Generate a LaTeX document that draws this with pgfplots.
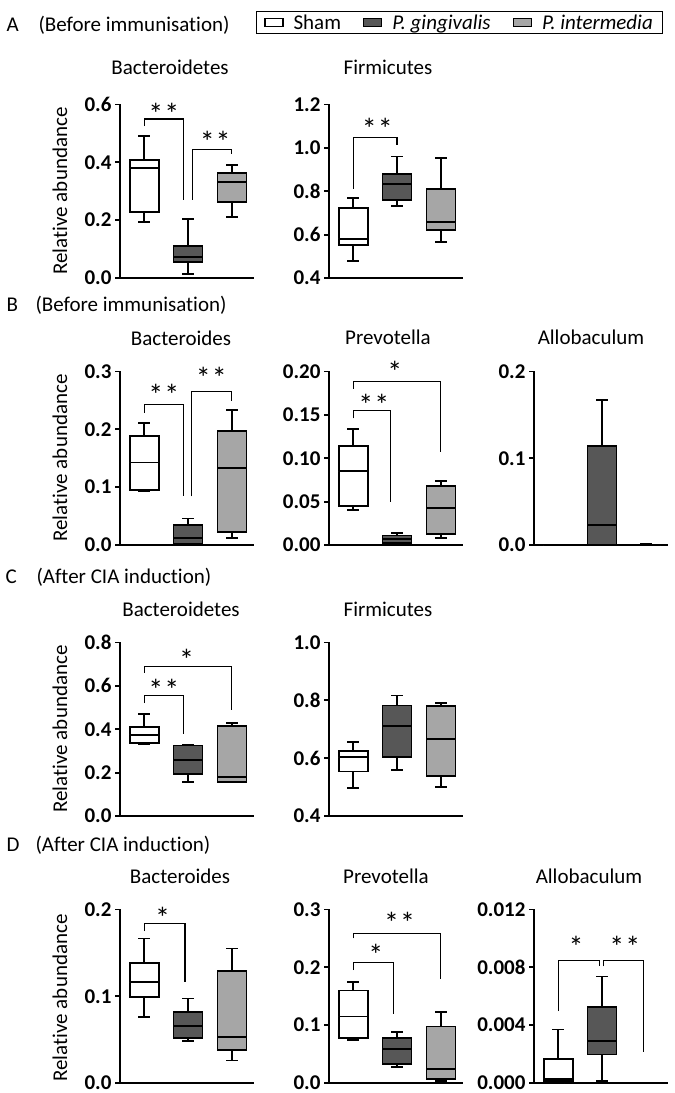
\documentclass[border=0pt]{standalone}
\usepackage{pgfplots}
\pgfplotsset{compat=1.18}
\usepgfplotslibrary{statistics}
\usepackage{fontspec}
\setmainfont{Carlito}[Ligatures=CommonOff]
\definecolor{dk}{HTML}{575757}
\definecolor{lt}{HTML}{A6A6A6}
\newcommand{\fs}{\fontsize{21}{24}\selectfont}
\pgfplotsset{
  panel/.style={
    scale only axis, width=133pt, height=173.5pt, anchor=south west,
    axis lines*=left, xmin=-0.55, xmax=2.48, enlargelimits=false, clip=false,
    xtick=\empty, tick align=outside, major tick length=5pt,
    axis line style={line width=1.8pt, line cap=rect},
    ytick style={line width=1.8pt, black},
    tick label style={font=\fs\bfseries},
    yticklabel style={/pgf/number format/fixed, /pgf/number format/fixed zerofill,
      /pgf/number format/precision=#1, /pgf/number format/assume math mode=true},
  },
}
\tikzset{br/.style={line width=1.1pt}}
\newcommand{\bp}[7]{\addplot[forget plot, draw=black, line width=1.8pt, fill=#7,
  boxplot prepared={draw direction=y, draw position=#1, lower whisker=#2, lower quartile=#3, median=#4,
  upper quartile=#5, upper whisker=#6, box extend=0.66, whisker extend=0.27}] coordinates {};}
\newcommand{\st}[3]{\node[font=\fontsize{30}{30}\selectfont, yshift=-6pt] at (axis cs:#1,#2) {#3};}
\newcommand{\twostar}{*\kern1pt*}
\begin{document}
\begin{tikzpicture}
\useasboundingbox (0pt,0pt) rectangle (675pt,-1093pt);
% headers
\node[anchor=west,font=\fs] at (3pt,-25pt) {A};
\node[anchor=west,font=\fs] at (35pt,-25pt) {(Before immunisation)};
\node[anchor=west,font=\fs] at (3pt,-305pt) {B};
\node[anchor=west,font=\fs] at (32pt,-305pt) {(Before immunisation)};
\node[anchor=west,font=\fs] at (2pt,-577pt) {C};
\node[anchor=west,font=\fs] at (33pt,-577pt) {(After CIA induction)};
\node[anchor=west,font=\fs] at (3pt,-845pt) {D};
\node[anchor=west,font=\fs] at (32pt,-845pt) {(After CIA induction)};
% titles
\node[font=\fs] at (170pt,-67pt) {Bacteroidetes};
\node[font=\fs] at (388pt,-67pt) {Firmicutes};
\node[font=\fs] at (181pt,-338pt) {Bacteroides};
\node[font=\fs] at (388pt,-337pt) {Prevotella};
\node[font=\fs] at (591pt,-337pt) {Allobaculum};
\node[font=\fs] at (181pt,-609pt) {Bacteroidetes};
\node[font=\fs] at (388pt,-609pt) {Firmicutes};
\node[font=\fs] at (180pt,-876pt) {Bacteroides};
\node[font=\fs] at (386pt,-876pt) {Prevotella};
\node[font=\fs] at (589pt,-876pt) {Allobaculum};
% y labels
\node[font=\fs,rotate=90] at (60pt,-191pt) {Relative abundance};
\node[font=\fs,rotate=90] at (60pt,-458pt) {Relative abundance};
\node[font=\fs,rotate=90] at (60pt,-729pt) {Relative abundance};
\node[font=\fs,rotate=90] at (60pt,-998pt) {Relative abundance};

% ---------- A Bacteroidetes
\begin{axis}[panel=1, at={(120pt,-278pt)}, ymin=0, ymax=0.6, ytick={0,0.2,0.4,0.6},
  legend columns=3,
  legend style={at={(axis description cs:2.553,1.4726)}, anchor=center, draw=black,
    line width=1.3pt, font=\fs, inner xsep=8pt, inner ysep=1pt,
    /tikz/every odd column/.append style={column sep=8pt},
    /tikz/every even column/.append style={column sep=20pt}},
  legend cell align=left]
\addlegendimage{legend image code/.code={\draw[draw=black,fill=white,line width=1.3pt] (0pt,-4pt) rectangle (18pt,4pt);}}
\addlegendentry{Sham}
\addlegendimage{legend image code/.code={\draw[draw=black,fill=dk,line width=1.3pt] (0pt,-4pt) rectangle (18pt,4pt);}}
\addlegendentry{\textit{P. gingivalis}}
\addlegendimage{legend image code/.code={\draw[draw=black,fill=lt,line width=1.3pt] (0pt,-4pt) rectangle (18pt,4pt);}}
\addlegendentry{\textit{P. intermedia}}
\bp{0}{0.193}{0.228}{0.380}{0.408}{0.492}{white}
\bp{1}{0.014}{0.054}{0.074}{0.111}{0.203}{dk}
\bp{2}{0.212}{0.263}{0.331}{0.363}{0.392}{lt}
\draw[br] (axis cs:0,0.525) |- (axis cs:0.9,0.55) -- (axis cs:0.9,0.27);
\draw[br] (axis cs:1.1,0.27) |- (axis cs:2,0.444) -- (axis cs:2,0.43);
\st{0.45}{0.589}{\twostar}
\st{1.62}{0.49}{\twostar}
\end{axis}

% ---------- A Firmicutes
\begin{axis}[panel=1, at={(329pt,-278pt)}, ymin=0.4, ymax=1.2, ytick={0.4,0.6,0.8,1.0,1.2}]
\bp{0}{0.477}{0.554}{0.580}{0.722}{0.768}{white}
\bp{1}{0.731}{0.758}{0.834}{0.880}{0.960}{dk}
\bp{2}{0.565}{0.623}{0.657}{0.810}{0.955}{lt}
\draw[br] (axis cs:0,0.812) |- (axis cs:1,1.046) -- (axis cs:1,1.015);
\st{0.55}{1.115}{\twostar}
\end{axis}

% ---------- B Bacteroides
\begin{axis}[panel=1, at={(120pt,-545pt)}, ymin=0, ymax=0.3, ytick={0,0.1,0.2,0.3}]
\bp{0}{0.0925}{0.0954}{0.1425}{0.1885}{0.2115}{white}
\bp{1}{0.0}{0.002}{0.012}{0.035}{0.046}{dk}
\bp{2}{0.0115}{0.023}{0.133}{0.1966}{0.233}{lt}
\draw[br] (axis cs:0,0.229) |- (axis cs:0.89,0.243) -- (axis cs:0.89,0.084);
\draw[br] (axis cs:1.08,0.084) |- (axis cs:2,0.265) -- (axis cs:2,0.249);
\st{0.45}{0.27}{\twostar}
\st{1.53}{0.30}{\twostar}
\end{axis}

% ---------- B Prevotella
\begin{axis}[panel=2, at={(329pt,-545pt)}, ymin=0, ymax=0.2, ytick={0,0.05,0.1,0.15,0.2}]
\bp{0}{0.040}{0.045}{0.085}{0.114}{0.134}{white}
\bp{1}{0.001}{0.002}{0.007}{0.011}{0.014}{dk}
\bp{2}{0.008}{0.0126}{0.0425}{0.068}{0.074}{lt}
\draw[br] (axis cs:0,0.146) |- (axis cs:0.86,0.155) -- (axis cs:0.86,0.050);
\draw[br] (axis cs:0,0.180) |- (axis cs:2,0.1885) -- (axis cs:2,0.107);
\st{0.47}{0.169}{\twostar}
\st{0.95}{0.207}{*}
\end{axis}

% ---------- B Allobaculum
\begin{axis}[panel=1, at={(534pt,-545pt)}, ymin=0, ymax=0.2, ytick={0,0.1,0.2}]
\bp{0}{0}{0}{0}{0}{0}{white}
\bp{1}{0}{0}{0.0234}{0.114}{0.167}{dk}
\bp{2}{0}{0}{0}{0.0002}{0.0009}{lt}
\end{axis}

% ---------- C Bacteroidetes
\begin{axis}[panel=1, at={(120pt,-816pt)}, ymin=0, ymax=0.8, ytick={0,0.2,0.4,0.6,0.8}]
\bp{0}{0.330}{0.338}{0.375}{0.412}{0.472}{white}
\bp{1}{0.155}{0.192}{0.258}{0.325}{0.327}{dk}
\bp{2}{0.155}{0.158}{0.180}{0.415}{0.428}{lt}
\draw[br] (axis cs:0,0.52) |- (axis cs:0.89,0.555) -- (axis cs:0.89,0.38);
\draw[br] (axis cs:0,0.66) |- (axis cs:2,0.69) -- (axis cs:2,0.49);
\st{0.45}{0.61}{\twostar}
\st{0.97}{0.75}{*}
\end{axis}

% ---------- C Firmicutes
\begin{axis}[panel=1, at={(329pt,-816pt)}, ymin=0.4, ymax=1.0, ytick={0.4,0.6,0.8,1.0}]
\bp{0}{0.498}{0.554}{0.603}{0.624}{0.655}{white}
\bp{1}{0.559}{0.603}{0.711}{0.782}{0.817}{dk}
\bp{2}{0.499}{0.538}{0.666}{0.780}{0.792}{lt}
\end{axis}

% ---------- D Bacteroides
\begin{axis}[panel=1, at={(120pt,-1083pt)}, ymin=0, ymax=0.2, ytick={0,0.1,0.2}]
\bp{0}{0.076}{0.0987}{0.116}{0.138}{0.1665}{white}
\bp{1}{0.048}{0.0516}{0.066}{0.082}{0.0975}{dk}
\bp{2}{0.026}{0.038}{0.053}{0.1287}{0.155}{lt}
\draw[br] (axis cs:0,0.175) |- (axis cs:0.93,0.184) -- (axis cs:0.93,0.116);
\st{0.42}{0.197}{*}
\end{axis}

% ---------- D Prevotella
\begin{axis}[panel=1, at={(329pt,-1083pt)}, ymin=0, ymax=0.3, ytick={0,0.1,0.2,0.3}]
\bp{0}{0.075}{0.078}{0.115}{0.160}{0.1746}{white}
\bp{1}{0.028}{0.033}{0.059}{0.078}{0.0884}{dk}
\bp{2}{0.003}{0.007}{0.024}{0.0977}{0.123}{lt}
\draw[br] (axis cs:0,0.195) |- (axis cs:0.91,0.209) -- (axis cs:0.91,0.12);
\draw[br] (axis cs:0,0.25) |- (axis cs:2,0.258) -- (axis cs:2,0.18);
\st{0.52}{0.232}{*}
\st{1.06}{0.287}{\twostar}
\end{axis}

% ---------- D Allobaculum (values in units of 0.001)
\begin{axis}[panel=0, at={(534pt,-1083pt)}, ymin=0, ymax=12, ytick={0,4,8,12},
  yticklabels={0.000,0.004,0.008,0.012}]
\bp{0}{0}{0.16}{0.28}{1.65}{3.7}{white}
\bp{1}{0.14}{1.97}{2.89}{5.23}{7.36}{dk}
\draw[br] (axis cs:0,4.97) |- (axis cs:0.94,8.46) -- (axis cs:0.94,8.07);
\draw[br] (axis cs:1.03,8.07) |- (axis cs:1.03,8.46) -| (axis cs:1.94,2.15);
\st{0.41}{9.8}{*}
\st{1.52}{9.8}{\twostar}
\end{axis}
\end{tikzpicture}
\end{document}
